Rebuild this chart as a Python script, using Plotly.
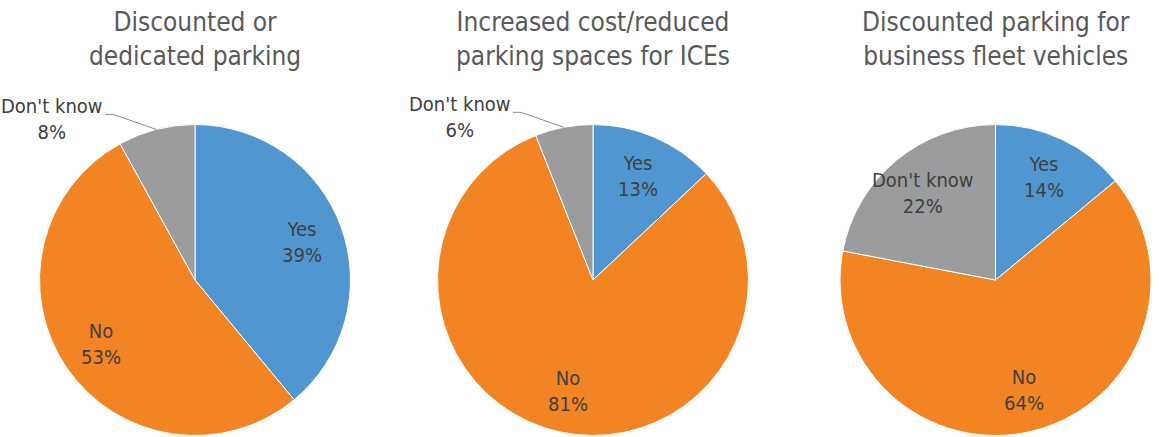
import math
import plotly.graph_objects as go

# Survey answers, in percent, for each parking incentive
labels = ["Yes", "No", "Don't know"]
discounted_dedicated = [39, 53, 8]
ice_cost_spaces = [13, 81, 6]
fleet_discount = [14, 64, 22]

titles = [
    "Discounted or<br>dedicated parking",
    "Increased cost/reduced<br>parking spaces for ICEs",
    "Discounted parking for<br>business fleet vehicles",
]
series = [discounted_dedicated, ice_cost_spaces, fleet_discount]

colors = ["#5097D1", "#F28423", "#9A9C9D"]
FONT = "DejaVu Sans Condensed, Roboto, sans-serif"
TEXT_COLOR = "#404040"
LABEL_SIZE = 20

W, H = 1159, 437
x_domains = [[0.0341, 0.3024], [0.3775, 0.6458], [0.7248, 0.9931]]
y_domain = [0.0034, 0.715]

# slices whose label sits outside the pie with a leader line
outside = [[False, False, True], [False, False, True], [False, False, False]]
LABEL_RADIUS = 0.73  # inside labels, as a fraction of the pie radius

fig = go.Figure()
for vals, xd in zip(series, x_domains):
    fig.add_trace(go.Pie(
        labels=labels,
        values=vals,
        sort=False,
        direction="clockwise",
        rotation=0,
        marker=dict(colors=colors, line=dict(color="white", width=1)),
        textinfo="none",
        domain=dict(x=xd, y=y_domain),
        hoverinfo="label+percent",
        showlegend=False,
    ))

annotations = []
shapes = []
for t, xd in zip(titles, x_domains):
    annotations.append(dict(
        text=t, x=(xd[0] + xd[1]) / 2, y=1.0, xref="paper", yref="paper",
        xanchor="center", yanchor="top", showarrow=False, yshift=-5,
        font=dict(family=FONT, size=26, color="#595959"),
    ))


def px(x, y):
    return x / W, 1 - y / H


# data labels placed along each slice's mid angle
for vals, xd, out in zip(series, x_domains, outside):
    total = sum(vals)
    cx = (xd[0] + xd[1]) / 2 * W
    cy = (1 - (y_domain[0] + y_domain[1]) / 2) * H
    r = min((xd[1] - xd[0]) * W, (y_domain[1] - y_domain[0]) * H) / 2
    cum = 0
    for lab, v, o in zip(labels, vals, out):
        mid = (cum + v / 2) / total * 2 * math.pi
        cum += v
        s, c = math.sin(mid), math.cos(mid)
        if not o:
            lx, ly = px(cx + LABEL_RADIUS * r * s, cy - LABEL_RADIUS * r * c)
            annotations.append(dict(
                text=f"{lab}<br>{v}%", x=lx, y=ly, xref="paper", yref="paper",
                showarrow=False, xanchor="center", yanchor="middle",
                font=dict(family=FONT, size=LABEL_SIZE, color=TEXT_COLOR),
            ))
            continue
        ex, ey = cx + r * s, cy - r * c
        tx, ty = px(ex - 104, ey - 10)
        annotations.append(dict(
            text=f"{lab}<br>{v}%", x=tx, y=ty, xref="paper", yref="paper",
            showarrow=False, xanchor="center", yanchor="middle",
            font=dict(family=FONT, size=LABEL_SIZE, color=TEXT_COLOR),
        ))
        p0 = px(ex, ey)
        p1 = px(ex - 43, ey - 15)
        p2 = px(ex - 51, ey - 15)
        shapes.append(dict(
            type="path", xref="paper", yref="paper",
            path=f"M {p0[0]} {p0[1]} L {p1[0]} {p1[1]} L {p2[0]} {p2[1]}",
            line=dict(color="#8C8C8C", width=1),
        ))

fig.update_layout(
    width=W, height=H,
    margin=dict(l=0, r=0, t=0, b=0),
    paper_bgcolor="white",
    plot_bgcolor="white",
    annotations=annotations,
    shapes=shapes,
)

fig.write_html("out.html")
